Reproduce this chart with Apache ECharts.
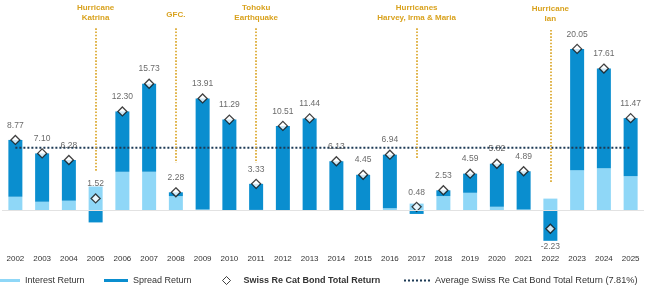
<!DOCTYPE html>
<html>
<head>
<meta charset="utf-8">
<script src="https://cdn.jsdelivr.net/npm/echarts@6/dist/echarts.min.js"></script>
<style>
  html, body { margin: 0; padding: 0; background: #fff; }
  #chart { width: 646px; height: 291px; }
</style>
</head>
<body>
<div id="chart"></div>
<script>
// data
const years = ['2002', '2003', '2004', '2005', '2006', '2007', '2008', '2009', '2010', '2011', '2012', '2013',
  '2014', '2015', '2016', '2017', '2018', '2019', '2020', '2021', '2022', '2023', '2024', '2025']
const interestReturn = [1.73, 1.11, 1.24, 3.00, 4.82, 4.82, 1.81, 0.15, 0.10, 0.10, 0.10, 0.10,
  0.05, 0.05, 0.30, 0.88, 1.81, 2.22, 0.49, 0.15, 1.50, 5.02, 5.27, 4.28]
const spreadReturn = [7.04, 5.99, 5.04, -1.45, 7.48, 10.91, 0.47, 13.76, 11.19, 3.23, 10.41, 11.34,
  6.08, 4.40, 6.64, -0.40, 0.72, 2.37, 5.33, 4.74, -3.73, 15.03, 12.34, 7.19]
const totalReturn = [8.77, 7.10, 6.28, 1.52, 12.30, 15.73, 2.28, 13.91, 11.29, 3.33, 10.51, 11.44,
  6.13, 4.45, 6.94, 0.48, 2.53, 4.59, 5.82, 4.89, -2.23, 20.05, 17.61, 11.47]
const avgReturn = 7.81

// event annotations
const eventYears = ['2005', '2008', '2011', '2017', '2022']
const eventNames = ['Hurricane\nKatrina', 'GFC.', 'Tohoku\nEarthquake', 'Hurricanes\nHarvey, Irma & Maria', 'Hurricane\nIan']
const eventTop = [22.6, 22.6, 22.6, 22.6, 22.4]
const eventBottom = [4.85, 5.9, 5.9, 6.4, 3.45]

const lightBlue = '#8fd7f7'
const darkBlue = '#0a8ecf'
const gold = '#d9a21e'
const navy = '#1d3a55'

const chart = echarts.init(document.getElementById('chart'))

const legendBase = {
  top: 276,
  padding: 0,
  textStyle: { fontFamily: 'Liberation Sans', fontSize: 9, color: '#333' },
  selectedMode: false
}

chart.setOption({
  animation: false,
  textStyle: { fontFamily: 'Liberation Sans' },
  grid: { left: 2, right: 2, top: 17, bottom: 48 },
  legend: [
    { ...legendBase, left: 0, data: ['Interest Return'], icon: 'rect', itemWidth: 20, itemHeight: 3 },
    { ...legendBase, left: 104, data: ['Spread Return'], icon: 'rect', itemWidth: 24, itemHeight: 3 },
    {
      ...legendBase, left: 222, data: ['Swiss Re Cat Bond Total Return'], itemWidth: 8, itemHeight: 8,
      itemStyle: { borderWidth: 1 },
      textStyle: { fontFamily: 'Liberation Sans', fontSize: 9, color: '#333', fontWeight: 'bold', padding: [0, 0, 0, 8] }
    },
    {
      ...legendBase, left: 403, data: ['Average Swiss Re Cat Bond Total Return (7.81%)'], itemWidth: 26, itemHeight: 8,
      textStyle: { fontFamily: 'Liberation Sans', fontSize: 9.2, color: '#333' }
    }
  ],
  xAxis: {
    type: 'category',
    data: years,
    axisLine: { show: false },
    axisTick: { show: false },
    axisLabel: { margin: 12, fontSize: 8, color: '#333', fontFamily: 'Liberation Sans' }
  },
  yAxis: {
    type: 'value',
    min: -4,
    max: 24,
    show: false,
    splitLine: { show: false }
  },
  series: [
    {
      name: 'Interest Return',
      type: 'bar',
      stack: 'ret',
      barWidth: 14,
      itemStyle: { color: lightBlue },
      data: interestReturn,
      markLine: {
        silent: true,
        symbol: ['none', 'none'],
        lineStyle: { color: gold, type: 'dotted', width: 1.6 },
        label: {
          show: true,
          position: 'start',
          formatter: '{b}',
          color: gold,
          fontWeight: 'bold',
          fontSize: 8,
          lineHeight: 10,
          fontFamily: 'Liberation Sans'
        },
        data: eventYears.map((y, i) => [
          { name: eventNames[i], coord: [y, eventTop[i]], label: { distance: eventNames[i].includes('\n') ? 6 : 9 } },
          { coord: [y, eventBottom[i]] }
        ])
      }
    },
    {
      name: 'Spread Return',
      type: 'bar',
      stack: 'ret',
      barWidth: 14,
      itemStyle: { color: darkBlue },
      data: spreadReturn,
      markLine: {
        silent: true,
        symbol: ['none', 'none'],
        label: { show: false },
        lineStyle: { color: '#e2e2e2', type: 'solid', width: 1 },
        data: [{ yAxis: 0 }]
      }
    },
    {
      name: 'Average Swiss Re Cat Bond Total Return (7.81%)',
      type: 'line',
      symbol: 'none',
      z: 3,
      lineStyle: { color: navy, type: 'dotted', width: 2 },
      itemStyle: { color: navy, opacity: 0 },
      data: years.map(() => avgReturn)
    },
    {
      name: 'Swiss Re Cat Bond Total Return',
      type: 'scatter',
      symbol: 'diamond',
      symbolSize: 9,
      z: 4,
      itemStyle: { color: '#fff', borderColor: '#111', borderWidth: 1.3 },
      label: {
        show: true,
        position: 'top',
        distance: 5,
        fontSize: 8.5,
        color: '#444',
        fontFamily: 'Liberation Sans',
        formatter: p => Number(p.value).toFixed(2)
      },
      data: totalReturn.map(v => v < 0
        ? { value: v, label: { position: 'bottom', distance: 8 } }
        : v)
    }
  ]
})
</script>
</body>
</html>
